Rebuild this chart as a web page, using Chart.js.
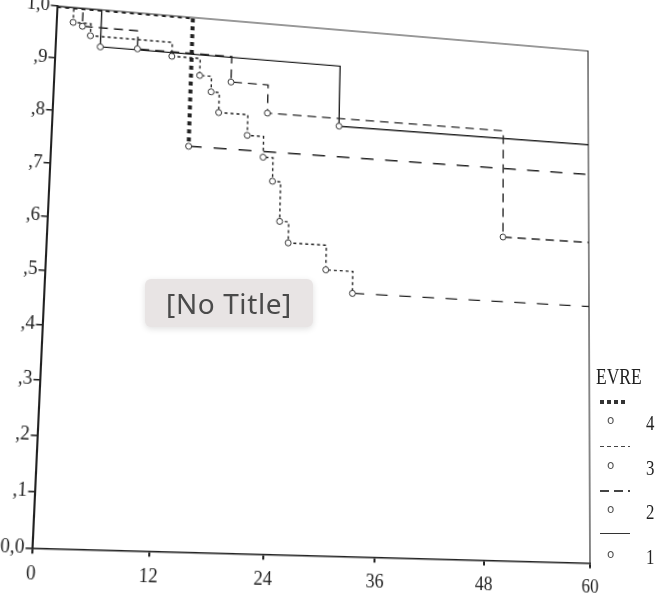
<!DOCTYPE html>
<html lang="en">
  <head>
    <meta charset="UTF-8" />
    <title>EVRE survival</title>
    <script src="https://cdn.jsdelivr.net/npm/chart.js"></script>
    <style>
      html, body { margin: 0; padding: 0; background: #fff; }
      body { width: 658px; height: 598px; position: relative; overflow: hidden; }
      #km { position: absolute; left: 0; top: 0; transform-origin: 0 0; }
      #legend { position: absolute; left: 596px; top: 364px; width: 62px; font-family: "Liberation Serif", serif; color: #222; }
      #legend .title { font-size: 23px; height: 28px; display: inline-block; transform: scaleX(0.76); transform-origin: 0 0; }
      #legend .row { position: relative; height: 44.5px; }
      #legend .sample { position: absolute; left: 4px; top: 9px; width: 30px; height: 1.5px; background: #333; }
      #legend .sym { position: absolute; left: 11px; top: 21px; font-size: 12px; color: #555; font-family: "DejaVu Sans", sans-serif; }
      #legend .num { position: absolute; left: 49px; top: 19px; font-size: 21px; display: inline-block; transform: scaleX(0.8); }
      #badge { position: absolute; left: 145px; top: 279px; width: 168px; height: 48px; border-radius: 6px;
               background: #e8e4e4; box-shadow: 0 2px 6px rgba(0,0,0,0.12); color: #4a4a4a;
               font-family: "Noto Sans", sans-serif; font-size: 28px; letter-spacing: 0.6px; line-height: 48px; text-align: center; }
    </style>
  </head>
  <body>
    <canvas id="km" width="658" height="598"></canvas>

    <div id="legend">
      <div class="title">EVRE</div>
      <div class="row"><div class="sample" style="height:4px;width:28px;top:8px;background:repeating-linear-gradient(90deg,#333 0 4px,transparent 4px 7px)"></div><span class="sym">o</span><span class="num">4</span></div>
      <div class="row"><div class="sample" style="background:repeating-linear-gradient(90deg,#444 0 4px,transparent 4px 7px)"></div><span class="sym">o</span><span class="num">3</span></div>
      <div class="row"><div class="sample" style="background:repeating-linear-gradient(90deg,#444 0 9px,transparent 9px 14px)"></div><span class="sym">o</span><span class="num">2</span></div>
      <div class="row"><div class="sample" style="top:7px"></div><span class="sym">o</span><span class="num">1</span></div>
    </div>

    <div id="badge">[No Title]</div>

    <script>
      // months of follow-up and survival at each drop
      const months1 = [0, 4.8, 31.2, 60];
      const surv1 = [1, 0.928, 0.81, 0.81];

      const months2 = [0, 2.8, 8.8, 19.1, 23.2, 50.0, 60];
      const surv2 = [1, 0.965, 0.93, 0.88, 0.825, 0.615, 0.615];

      const months3 = [0, 1.8, 3.7, 12.55, 15.65, 16.95, 17.85, 21.05, 22.85, 23.95, 24.85, 25.85, 30.05, 33.05, 60];
      const surv3 = [1, 0.971, 0.948, 0.921, 0.888, 0.858, 0.819, 0.779, 0.739, 0.694, 0.618, 0.578, 0.531, 0.489, 0.489];

      const months4 = [0, 14.7, 60];
      const surv4 = [1, 0.75, 0.75];

      const xTicks = [0, 12, 24, 36, 48, 60];
      const yTicks = [0, 0.1, 0.2, 0.3, 0.4, 0.5, 0.6, 0.7, 0.8, 0.9, 1.0];

      // where the plot corners sit in the scanned page (TL, TR, BL, BR)
      const scanCorners = [[57, 6], [588, 51], [32, 548], [590, 563]];

      const ink = "#222";

      function toPoints(ts, ss) {
        return ts.map((t, i) => ({ x: t, y: ss[i] }));
      }

      // circles on every drop, none on the first and last point
      function dropRadius(ctx) {
        const n = ctx.dataset.data.length;
        return ctx.dataIndex === 0 || ctx.dataIndex === n - 1 ? 0 : 3;
      }

      function lastSeg(ctx) {
        return ctx.p1DataIndex === ctx.chart.data.datasets[ctx.datasetIndex].data.length - 1;
      }

      function baseSet(label, ts, ss) {
        return {
          label: label,
          data: toPoints(ts, ss),
          stepped: true,
          borderColor: ink,
          borderWidth: 1.4,
          pointRadius: dropRadius,
          pointStyle: "circle",
          pointBorderWidth: 1,
          pointBorderColor: "#333",
          pointBackgroundColor: "#fff",
          fill: false,
        };
      }

      const ds1 = baseSet("1", months1, surv1);

      const ds2 = baseSet("2", months2, surv2);
      ds2.borderDash = [9, 6];

      const ds3 = baseSet("3", months3, surv3);
      ds3.borderDash = [3, 3];
      ds3.segment = {
        borderDash: (ctx) => (lastSeg(ctx) ? [12, 12] : undefined),
      };

      const ds4 = baseSet("4", months4, surv4);
      ds4.borderWidth = 4;
      ds4.borderDash = [4, 4];
      ds4.borderCapStyle = "butt";
      ds4.segment = {
        borderDash: (ctx) => (lastSeg(ctx) ? [13, 12] : undefined),
        borderWidth: (ctx) => (lastSeg(ctx) ? 1.5 : undefined),
      };

      const frame = {
        id: "frame",
        beforeDatasetsDraw(chart) {
          const { ctx, chartArea: a } = chart;
          ctx.save();
          ctx.strokeStyle = "#333";
          ctx.lineWidth = 1.2;
          ctx.beginPath();
          ctx.moveTo(a.left, a.top);
          ctx.lineTo(a.right, a.top);
          ctx.lineTo(a.right, a.bottom);
          ctx.stroke();
          ctx.restore();
        },
      };

      const tickFont = { family: "'Liberation Serif', serif", size: 18 };

      const chart = new Chart(document.getElementById("km"), {
        type: "line",
        data: { datasets: [ds4, ds3, ds2, ds1] },
        options: {
          responsive: false,
          animation: false,
          layout: { padding: { left: 8, top: 26, right: 68, bottom: 10 } },
          plugins: { legend: { display: false }, tooltip: { enabled: false } },
          scales: {
            x: {
              type: "linear",
              min: 0,
              max: 60,
              afterBuildTicks: (axis) => { axis.ticks = xTicks.map((v) => ({ value: v })); },
              ticks: { color: ink, font: tickFont, padding: 8 },
              grid: { drawOnChartArea: false, tickLength: 5, color: ink, lineWidth: 2 },
              border: { color: ink, width: 1.5 },
            },
            y: {
              min: 0,
              max: 1,
              afterBuildTicks: (axis) => { axis.ticks = yTicks.map((v) => ({ value: v })); },
              ticks: {
                color: ink,
                font: tickFont,
                padding: 1,
                callback: (v) => {
                  if (v === 0) return "0,0";
                  if (v >= 0.999) return "1,0";
                  return "," + Math.round(v * 10);
                },
              },
              grid: { drawOnChartArea: false, tickLength: 6, color: ink, lineWidth: 1.5 },
              border: { color: ink, width: 2 },
            },
          },
        },
        plugins: [frame],
      });

      // the scanned page is not square to the camera: map the plot box onto it
      function solve(A, b) {
        const n = b.length;
        for (let i = 0; i < n; i++) {
          let p = i;
          for (let r = i + 1; r < n; r++) if (Math.abs(A[r][i]) > Math.abs(A[p][i])) p = r;
          [A[i], A[p]] = [A[p], A[i]];
          [b[i], b[p]] = [b[p], b[i]];
          for (let r = i + 1; r < n; r++) {
            const f = A[r][i] / A[i][i];
            for (let c = i; c < n; c++) A[r][c] -= f * A[i][c];
            b[r] -= f * b[i];
          }
        }
        const x = new Array(n);
        for (let i = n - 1; i >= 0; i--) {
          let s = b[i];
          for (let c = i + 1; c < n; c++) s -= A[i][c] * x[c];
          x[i] = s / A[i][i];
        }
        return x;
      }

      function skewToScan() {
        const a = chart.chartArea;
        const src = [[a.left, a.top], [a.right, a.top], [a.left, a.bottom], [a.right, a.bottom]];
        const A = [];
        const b = [];
        src.forEach(([x, y], i) => {
          const [u, v] = scanCorners[i];
          A.push([x, y, 1, 0, 0, 0, -x * u, -y * u]);
          b.push(u);
          A.push([0, 0, 0, x, y, 1, -x * v, -y * v]);
          b.push(v);
        });
        const [h0, h1, h2, h3, h4, h5, h6, h7] = solve(A, b);
        const m = [h0, h3, 0, h6, h1, h4, 0, h7, 0, 0, 1, 0, h2, h5, 0, 1];
        document.getElementById("km").style.transform = "matrix3d(" + m.join(",") + ")";
      }

      skewToScan();
    </script>
  </body>
</html>
